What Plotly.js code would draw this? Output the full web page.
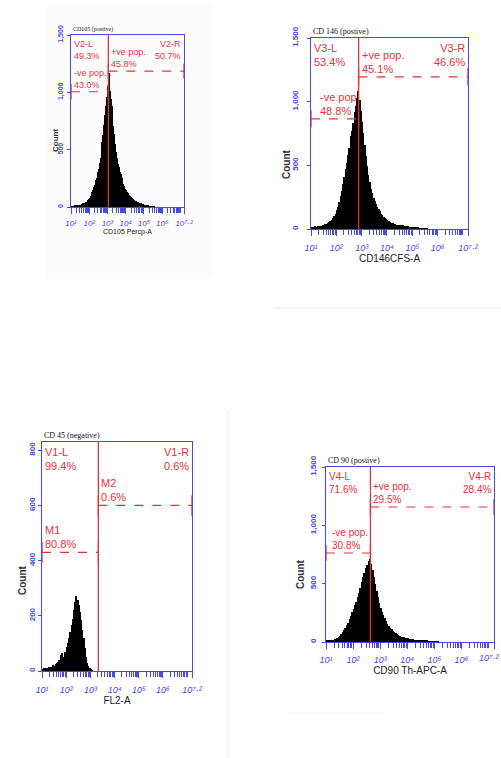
<!DOCTYPE html>
<html>
<head>
<meta charset="utf-8">
<script src="https://cdn.plot.ly/plotly-3.0.1.min.js"></script>
<style>
html,body{margin:0;padding:0;background:#ffffff;}
#chart{width:501px;height:758px;}
</style>
</head>
<body>
<div id="chart"></div>
<script>
// ---------------- DATA ----------------
// Histogram bins on a log10 fluorescence scale
const binStart = 1.0;
const binWidth = 0.05;

// CD105 Percp-A counts (bins from 10^1.0 upward)
const cd105Counts = [4,6,8,7,10,9,12,15,13,18, 21,22,27,31,33,39,44,48,58,67,
  78,93,107,127,147,172,195,236,255,302, 335,388,428,470,570,625,712,805,880,958,
  1052,1165,1012,940,884,792,705,640,548,480, 428,372,348,308,284,252,230,204,184,160,
  150,131,119,104,97,86,81,71,67,58, 55,49,47,41,39,34,32,28,27,23,
  21,16,15,11,10,8,7,5,4,3, 2,1];

// CD146 CFS-A counts
const cd146Counts = [15,18,16,21,19,23,21,25,26,29, 31,37,40,47,52,61,72,85,101,121,
  146,176,212,256,302,352,410,468,522,582, 640,730,770,834,920,968,1032,1082,1012,926,
  842,752,662,574,497,424,366,317,282,247, 221,195,176,154,139,121,109,95,85,75,
  69,61,57,49,47,41,40,35,34,31, 32,29,28,25,24,21,20,19,17,16,
  14,12,10,9,8,7,6,5,4,3, 2,1];

// CD45 FL2-A counts
const cd45Counts = [8,10,9,12,10,14,13,16,15,22, 18,24,28,32,40,58,66,46,52,70,
  88,100,118,140,165,190,220,250,272,258, 238,215,185,150,120,82,52,30,18,10,
  5,2];

// CD90 Th-APC-A counts
const cd90Counts = [12,16,14,18,20,19,24,30,38,46, 55,71,83,101,119,143,167,197,224,256,
  284,316,344,382,418,463,511,556,594,632, 664,692,714,668,616,554,496,438,386,334,
  293,261,231,204,181,157,141,123,109,94, 85,74,67,59,55,47,45,39,38,33,
  32,28,28,24,23,20,20,16,15,14, 13,12,11,10,9,8,7,6,5,4,
  3,2,1];

const histograms = [cd105Counts, cd146Counts, cd45Counts, cd90Counts];

const panelTitles = ["CD105 (postive)", "CD 146 (postive)", "CD 45 (negative)", "CD 90 (postive)"];
const xAxisTitles = ["CD105 Percp-A", "CD146CFS-A", "FL2-A", "CD90 Th-APC-A"];
const yAxisTitle = "Count";

const xTickValues = [1, 2, 3, 4, 5, 6, 7.2];
const xTickLabels = ["10\u00B9", "10\u00B2", "10\u00B3", "10\u2074", "10\u2075", "10\u2076", "10\u2077\u00B7\u00B2"];
const xRange = [1, 7.2];

const yAxisMax = [1500, 1500, 830, 1500];
const yTickValues = [[0, 500, 1000, 1500], [0, 500, 1000, 1500], [0, 200, 400, 600, 800], [0, 500, 1000, 1500]];

// Gates
const gateCutoff = [3.05, 2.88, 3.33, 2.64];        // log10 position of the vertical marker
const upperGateLevel = [1185, 1195, 600, 1157];      // +ve / M2 marker height (count)
const lowerGateLevel = [1005, 865, 430, 763];        // -ve / M1 marker height (count)

const regionLeftLabels  = ["V2-L<br>49.3%", "V3-L<br>53.4%", "V1-L<br>99.4%", "V4-L<br>71.6%"];
const regionRightLabels = ["V2-R<br>50.7%", "V3-R<br>46.6%", "V1-R<br>0.6%",  "V4-R<br>28.4%"];
const upperGateLabels   = ["+ve pop.<br>45.8%", "+ve pop.<br>45.1%", "M2<br>0.6%", "+ve pop.<br>29.5%"];
const lowerGateLabels   = ["-ve pop.<br>43.0%", "-ve pop<br>48.8%", "M1<br>80.8%", "-ve pop.<br>30.8%"];

// ---------------- STYLE / LAYOUT ----------------
const W = 501, H = 758;
const px = v => v / W;
const py = v => 1 - v / H;

const BLUE = "#4646f2";
const RED = "#e8303c";
const SANS = "Liberation Sans, Arial, sans-serif";
const SERIF = "Liberation Serif, Times New Roman, serif";

// frame [left, top, right, bottom] in pixels
const frames = [[71, 35, 184, 207], [311, 38, 468, 229], [42, 442, 192, 671], [326, 467, 494, 642]];
const redSize = [9, 11, 11, 10];
const xTickSize = [8, 9, 9, 9];
const xTickStandoff = [2, 4, 4, 3];
const yTickSize = [7, 8, 8, 8];
const yTickStandoff = [1, 6, 0, 3];
const titleSize = [6, 8, 8, 8];
const xTitleSize = [7, 10, 10, 10];
const xTitleStandoff = [2, 1, 1, 0];
const countPos = [[55, 141, 8], [287, 164, 10], [22, 580, 10], [300, 574, 10]];
const lowerLabelAtCutoff = [false, true, false, true];
// the last tick label of a panel flush with the page edge is drawn right-aligned to stay on the page
const lastLabelFlushRight = [false, false, false, true];

// minor ticks at 2..9 x 10^d
const minorTicks = [];
for (let d = 1; d <= 6; d++) for (let k = 2; k <= 9; k++) minorTicks.push(d + Math.log10(k));
minorTicks.push(7);

const data = [];
const layout = {
  width: W, height: H,
  margin: {l: 0, r: 0, t: 0, b: 0},
  paper_bgcolor: "#ffffff",
  plot_bgcolor: "#ffffff",
  showlegend: false,
  bargap: 0,
  annotations: [],
  shapes: [
    // faint scan-edge artefacts of the source figure
    {type: "rect", xref: "paper", yref: "paper", x0: px(46), x1: px(212), y0: py(278), y1: py(5),
     fillcolor: "#fcfcfc", line: {width: 0}, layer: "below"},
    {type: "line", xref: "paper", yref: "paper", x0: px(273), x1: px(501), y0: py(308), y1: py(308),
     line: {color: "#eeeeee", width: 1}, layer: "below"},
    {type: "line", xref: "paper", yref: "paper", x0: px(228), x1: px(228), y0: py(410), y1: py(758),
     line: {color: "#eeeeee", width: 1}, layer: "below"},
    {type: "line", xref: "paper", yref: "paper", x0: px(287), x1: px(380), y0: py(713), y1: py(713),
     line: {color: "#f2f2f2", width: 1}, layer: "below"}
  ]
};

histograms.forEach((counts, i) => {
  const s = i === 0 ? "" : String(i + 1);
  const xa = "x" + s, ya = "y" + s;
  const f = frames[i];

  data.push({
    type: "bar",
    x0: binStart + binWidth / 2,
    dx: binWidth,
    y: counts,
    width: binWidth,
    xaxis: xa, yaxis: ya,
    marker: {color: "#000000", line: {width: 0}},
    hoverinfo: "skip"
  });

  const tickText = xTickLabels.slice();
  if (lastLabelFlushRight[i]) tickText[tickText.length - 1] = "";

  layout["xaxis" + s] = {
    domain: [px(f[0]), px(f[2])],
    anchor: ya,
    range: xRange,
    tickmode: "array",
    tickvals: xTickValues,
    ticktext: tickText,
    ticks: "outside", ticklen: 6, tickwidth: 1, tickcolor: BLUE,
    minor: {tickmode: "array", tickvals: minorTicks, ticks: "outside", ticklen: 5, tickwidth: 1, tickcolor: BLUE},
    ticklabelstandoff: xTickStandoff[i],
    ticklabeloverflow: "allow",
    tickfont: {family: SANS, size: xTickSize[i], color: BLUE, style: "italic"},
    showline: true, mirror: true, linecolor: BLUE, linewidth: 1.3,
    showgrid: false, zeroline: false, fixedrange: true,
    title: {text: xAxisTitles[i], standoff: xTitleStandoff[i],
            font: {family: SANS, size: xTitleSize[i], color: "#222222"}}
  };

  if (lastLabelFlushRight[i]) {
    layout.annotations.push({
      xref: "paper", yref: ya + " domain", x: 1, y: 0, xanchor: "right", yanchor: "top",
      yshift: -(6 + xTickStandoff[i]), showarrow: false, text: xTickLabels[xTickLabels.length - 1],
      font: {family: SANS, size: xTickSize[i], color: BLUE, style: "italic"}
    });
  }

  layout["yaxis" + s] = {
    domain: [py(f[3]), py(f[1])],
    anchor: xa,
    range: [0, yAxisMax[i]],
    tickmode: "array",
    tickvals: yTickValues[i],
    tickformat: ",",
    tickangle: -90,
    ticks: "outside", ticklen: 3, tickwidth: 1, tickcolor: BLUE,
    ticklabelstandoff: yTickStandoff[i],
    ticklabeloverflow: "allow",
    tickfont: {family: SANS, size: yTickSize[i], color: BLUE, weight: "bold"},
    showline: true, mirror: true, linecolor: BLUE, linewidth: 1.3,
    showgrid: false, zeroline: false, fixedrange: true
  };

  // gate lines
  const cut = gateCutoff[i], up = upperGateLevel[i], lo = lowerGateLevel[i];
  const half = 0.045 * yAxisMax[i];
  const redLine = {color: RED, width: 1.3};
  layout.shapes.push(
    {type: "line", xref: xa, yref: ya + " domain", x0: cut, x1: cut, y0: 0, y1: 1, line: redLine},
    {type: "line", xref: xa, yref: ya, x0: cut, x1: xRange[1], y0: up, y1: up, line: {color: RED, width: 1.2, dash: "dash"}},
    {type: "line", xref: xa, yref: ya, x0: xRange[0], x1: cut, y0: lo, y1: lo, line: {color: RED, width: 1.2, dash: "dash"}},
    {type: "line", xref: xa, yref: ya, x0: xRange[1], x1: xRange[1], y0: up - half, y1: up + half, line: redLine},
    {type: "line", xref: xa, yref: ya, x0: cut, x1: cut, y0: up - half, y1: up + half, line: redLine},
    {type: "line", xref: xa, yref: ya, x0: xRange[0], x1: xRange[0], y0: lo - half, y1: lo + half, line: redLine},
    {type: "line", xref: xa, yref: ya, x0: cut, x1: cut, y0: lo - half, y1: lo + half, line: redLine}
  );

  const redFont = {family: SANS, size: redSize[i], color: RED};
  layout.annotations.push(
    {xref: xa + " domain", yref: ya + " domain", x: 0, y: 1, xanchor: "left", yanchor: "top",
     xshift: 1, yshift: -2, align: "left", showarrow: false, text: regionLeftLabels[i], font: redFont},
    {xref: xa + " domain", yref: ya + " domain", x: 1, y: 1, xanchor: "right", yanchor: "top",
     xshift: -1, yshift: -2, align: "right", showarrow: false, text: regionRightLabels[i], font: redFont},
    {xref: xa, yref: ya, x: cut, y: up, xanchor: "left", yanchor: "bottom",
     xshift: 1, yshift: 0, align: "left", showarrow: false, text: upperGateLabels[i], font: redFont},
    lowerLabelAtCutoff[i]
      ? {xref: xa, yref: ya, x: cut, y: lo, xanchor: "right", yanchor: "bottom",
         xshift: 0, yshift: 0, align: "left", showarrow: false, text: lowerGateLabels[i], font: redFont}
      : {xref: xa + " domain", yref: ya, x: 0, y: lo, xanchor: "left", yanchor: "bottom",
         xshift: 1, yshift: 0, align: "left", showarrow: false, text: lowerGateLabels[i], font: redFont},
    {xref: xa + " domain", yref: ya + " domain", x: 0, y: 1, xanchor: "left", yanchor: "bottom",
     xshift: 0, yshift: 0, showarrow: false, text: panelTitles[i],
     font: {family: SERIF, size: titleSize[i], color: "#111111"}},
    {xref: "paper", yref: "paper", x: px(countPos[i][0]), y: py(countPos[i][1]),
     xanchor: "center", yanchor: "middle", textangle: -90, showarrow: false, text: yAxisTitle,
     font: {family: SANS, size: countPos[i][2], color: "#333333", weight: "bold"}}
  );
});

Plotly.newPlot("chart", data, layout, {displayModeBar: false});
</script>
</body>
</html>
